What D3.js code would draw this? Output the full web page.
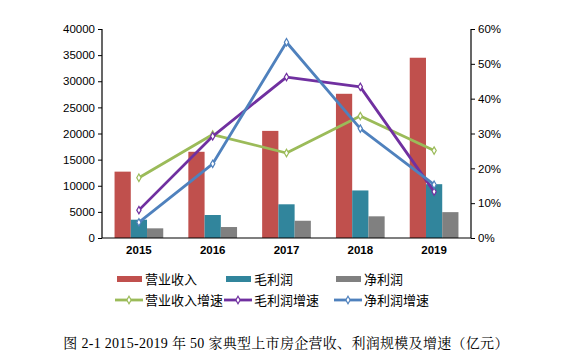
<!DOCTYPE html>
<html><head><meta charset="utf-8">
<script src="https://cdn.jsdelivr.net/npm/d3@7"></script>
<style>body{margin:0;background:#fff}svg{display:block}</style>
</head><body><svg id="c" width="576" height="358"></svg>
<script>
const years = ["2015","2016","2017","2018","2019"];
const revenue = [12700, 16500, 20500, 27600, 34500];
const grossProfit = [3500, 4400, 6450, 9100, 10300];
const netProfit = [1850, 2100, 3300, 4150, 4950];
const revenueGrowth = [0.173, 0.297, 0.244, 0.350, 0.251];
const grossGrowth = [0.080, 0.292, 0.462, 0.434, 0.133];
const netGrowth = [0.045, 0.213, 0.562, 0.314, 0.153];
const leftTicks = [0,5000,10000,15000,20000,25000,30000,35000,40000];
const rightTicks = [0,0.1,0.2,0.3,0.4,0.5,0.6];
const barNames = ["营业收入","毛利润","净利润"];
const lineNames = ["营业收入增速","毛利润增速","净利润增速"];
const barColors = ["#C0504D","#31859C","#808080"];
const lineColors = ["#9BBB59","#7030A0","#4F81BD"];
const caption = "图 2-1 2015-2019 年 50 家典型上市房企营收、利润规模及增速（亿元）";

const svg = d3.select("#c");
const L = 102, R = 471, T = 29, B = 238;
const x = d3.scaleBand().domain(years).range([L, R]).paddingInner(0.34).paddingOuter(0.17);
const xs = d3.scaleBand().domain(years).range([L, R]);
const yL = d3.scaleLinear().domain([0, 40000]).range([B, T]);
const yR = d3.scaleLinear().domain([0, 0.6]).range([B, T]);
const xb = d3.scaleBand().domain([0,1,2]).range([0, x.bandwidth()]);

const barSeries = [revenue, grossProfit, netProfit];
barSeries.forEach((s, i) => {
  svg.append("g").selectAll("rect").data(s).join("rect")
    .attr("x", (d, j) => x(years[j]) + xb(i))
    .attr("y", d => yL(d))
    .attr("width", xb.bandwidth())
    .attr("height", d => B - yL(d))
    .attr("fill", barColors[i]);
});

const font = "'Liberation Sans', Arial, sans-serif";
const gl = svg.append("g").attr("transform", `translate(${L},0)`)
  .call(d3.axisLeft(yL).tickValues(leftTicks).tickSize(4).tickPadding(3).tickFormat(d3.format("d")));
const gr = svg.append("g").attr("transform", `translate(${R},0)`)
  .call(d3.axisRight(yR).tickValues(rightTicks).tickSize(4).tickPadding(3).tickFormat(d3.format(".0%")));
const gx = svg.append("g").attr("transform", `translate(0,${B})`)
  .call(d3.axisBottom(xs).tickSize(0).tickPadding(8));
[gl, gr, gx].forEach(g => {
  g.selectAll("text").attr("font-family", font).attr("font-size", 11.5).attr("fill", "#000");
  g.selectAll("line").attr("stroke", "#000");
  g.select(".domain").attr("stroke", "#000").attr("stroke-width", 1.2);
});
gl.select(".domain").attr("d", `M0,${T}V${B}`);
gr.select(".domain").attr("d", `M0,${T}V${B}`);
gx.select(".domain").attr("d", `M${L},0H${R}`);
gx.selectAll("text").attr("font-weight", "bold");

const lineSeries = [revenueGrowth, grossGrowth, netGrowth];
const lineGen = d3.line().x((d, j) => xs(years[j]) + xs.bandwidth() / 2).y(d => yR(d));
const diamond = d3.symbol().type(d3.symbolDiamond).size(16);
lineSeries.forEach((s, i) => {
  svg.append("path").datum(s).attr("d", lineGen).attr("fill", "none")
    .attr("stroke", lineColors[i]).attr("stroke-width", 2.8).attr("stroke-linejoin", "round");
  svg.append("g").selectAll("path").data(s).join("path")
    .attr("d", diamond)
    .attr("transform", (d, j) => `translate(${xs(years[j]) + xs.bandwidth() / 2},${yR(d)})`)
    .attr("fill", "#fff").attr("stroke", lineColors[i]).attr("stroke-width", 1.2);
});

// legend
const legX = [117, 226, 336];
const lg = svg.append("g");
barNames.forEach((n, i) => {
  lg.append("rect").attr("x", legX[i]).attr("y", 276).attr("width", 25).attr("height", 6).attr("fill", barColors[i]);
  lg.append("text").attr("x", legX[i] + 28).attr("y", 284).text(n)
    .attr("font-family", "'Noto Sans CJK SC', sans-serif").attr("font-size", 13);
});
lineNames.forEach((n, i) => {
  const x0 = legX[i] - 2;
  lg.append("line").attr("x1", x0).attr("x2", x0 + 28).attr("y1", 300).attr("y2", 300)
    .attr("stroke", lineColors[i]).attr("stroke-width", 2.8);
  lg.append("path").attr("d", diamond).attr("transform", `translate(${x0 + 14},300)`)
    .attr("fill", "#fff").attr("stroke", lineColors[i]).attr("stroke-width", 1.2);
  lg.append("text").attr("x", legX[i] + 28).attr("y", 305).text(n)
    .attr("font-family", "'Noto Sans CJK SC', sans-serif").attr("font-size", 13);
});

svg.append("text").attr("x", 286).attr("y", 348).attr("text-anchor", "middle")
  .attr("font-family", "'Liberation Serif', 'Noto Serif CJK SC', 'Noto Sans CJK SC', serif")
  .attr("letter-spacing", 0.3)
  .attr("font-size", 14).text(caption);
</script></body></html>
